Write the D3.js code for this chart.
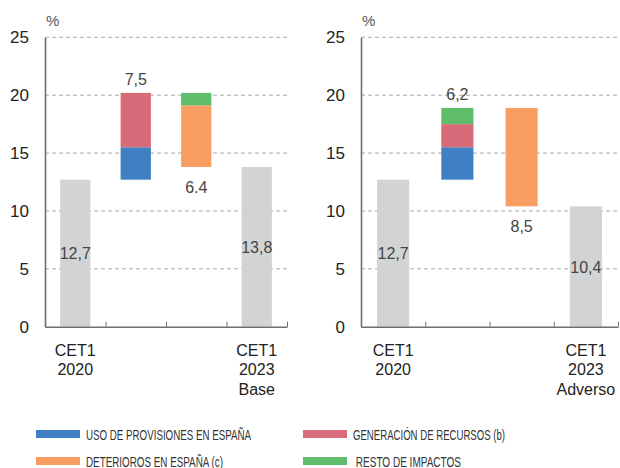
<!DOCTYPE html>
<html>
<head>
<meta charset="utf-8">
<script src="https://cdn.jsdelivr.net/npm/d3@7"></script>
<style>
  body { margin: 0; background: #fff; }
  svg { display: block; font-family: "Liberation Sans", Arial, sans-serif; }
</style>
</head>
<body>
<svg id="chart" width="620" height="468"></svg>
<script>
// data, one entry per panel (Base, Adverso)
var scenarios = ["Base", "Adverso"];
var categoriesBase = [["CET1", "2020"], [], [], ["CET1", "2023", "Base"]];
var categoriesAdverso = [["CET1", "2020"], [], [], ["CET1", "2023", "Adverso"]];
var cet1Start = [12.7, 12.7];
var cet1End = [13.8, 10.4];
var usoProvisiones = [2.8, 2.8];
var generacionRecursos = [4.7, 2.0];
var restoImpactos = [-1.1, 1.4];
var deteriorosEspana = [-5.3, -8.5];
var upLabels = ["7,5", "6,2"];
var downLabels = ["6.4", "8,5"];
var startLabels = ["12,7", "12,7"];
var endLabels = ["13,8", "10,4"];
var yTicks = [0, 5, 10, 15, 20, 25];

var seriesNames = ["USO DE PROVISIONES EN ESPAÑA", "GENERACIÓN DE RECURSOS (b)",
                   "DETERIOROS EN ESPAÑA (c)", " RESTO DE IMPACTOS"];
var colors = {
    uso: "#3f7fc4",
    gen: "#d86b79",
    det: "#f89e62",
    resto: "#5fbd6b",
    cet1: "#d2d3d5"
};

var svg = d3.select("#chart");

var y = d3.scaleLinear().domain([0, 25]).range([326.7, 37.3]);

var panels = [
    {left: 45, right: 287, cats: categoriesBase},
    {left: 361, right: 618, cats: categoriesAdverso}
];

panels.forEach(function(p, i) {
    var g = svg.append("g");

    var x = d3.scaleBand()
        .domain([0, 1, 2, 3])
        .range([p.left, p.right])
        .paddingInner(0.5)
        .paddingOuter(0.25);

    // gridlines
    g.selectAll(".grid")
        .data(yTicks.filter(function(d) { return d > 0; }))
        .enter().append("line")
        .attr("x1", p.left)
        .attr("x2", p.right)
        .attr("y1", function(d) { return y(d); })
        .attr("y2", function(d) { return y(d); })
        .attr("stroke", "#a8a8a8")
        .attr("stroke-width", 1)
        .attr("stroke-dasharray", "4,3");

    // build the waterfall segments
    var segs = [];
    segs.push({bar: 0, y0: 0, y1: cet1Start[i], color: colors.cet1});
    var running = cet1Start[i];
    var steps = [
        {v: usoProvisiones[i], color: colors.uso},
        {v: generacionRecursos[i], color: colors.gen},
        {v: restoImpactos[i], color: colors.resto},
        {v: deteriorosEspana[i], color: colors.det}
    ];
    var upTop = running, downBottom = null;
    steps.forEach(function(s) {
        var next = running + s.v;
        segs.push({bar: s.v >= 0 ? 1 : 2, y0: Math.min(running, next), y1: Math.max(running, next), color: s.color});
        running = next;
        if (s.v >= 0) upTop = running;
        else downBottom = running;
    });
    segs.push({bar: 3, y0: 0, y1: cet1End[i], color: colors.cet1});

    g.selectAll(".seg")
        .data(segs)
        .enter().append("rect")
        .attr("x", function(d) { return x(d.bar); })
        .attr("width", x.bandwidth())
        .attr("y", function(d) { return y(d.y1); })
        .attr("height", function(d) { return y(d.y0) - y(d.y1); })
        .attr("fill", function(d) { return d.color; });

    // value labels
    var lbl = function(xp, yp, t) {
        g.append("text")
            .attr("x", xp)
            .attr("y", yp)
            .attr("text-anchor", "middle")
            .attr("font-size", 16)
            .attr("fill", "#444")
            .text(t);
    };
    var cx = function(k) { return x(k) + x.bandwidth() / 2; };
    lbl(cx(0), y(cet1Start[i] / 2) + 6, startLabels[i]);
    lbl(cx(3), y(cet1End[i] / 2) + 6, endLabels[i]);
    lbl(cx(1), y(upTop) - 8, upLabels[i]);
    lbl(cx(2), y(downBottom) + 26, downLabels[i]);

    // y axis
    var yAxis = d3.axisLeft(y).tickValues(yTicks).tickSize(0).tickPadding(16);
    var ya = g.append("g")
        .attr("transform", "translate(" + p.left + ",0)")
        .call(yAxis);
    ya.select(".domain").attr("stroke", "#6d6e71").attr("stroke-width", 1.6);
    ya.selectAll("text")
        .attr("font-size", 17)
        .attr("font-family", "Liberation Sans, Arial, sans-serif")
        .attr("fill", "#222");

    // x axis with ticks at band boundaries
    var xl = d3.scaleLinear().domain([0, 4]).range([p.left, p.right]);
    var xAxis = d3.axisBottom(xl).tickValues([1, 2, 3, 4]).tickSize(-5).tickSizeOuter(0).tickFormat("");
    var xa = g.append("g")
        .attr("transform", "translate(0," + y(0) + ")")
        .call(xAxis);
    xa.select(".domain").attr("stroke", "#6d6e71").attr("stroke-width", 1.6);
    xa.selectAll(".tick line").attr("stroke", "#6d6e71").attr("stroke-width", 1);

    // category labels
    p.cats.forEach(function(lines, k) {
        var t = g.append("text")
            .attr("text-anchor", "middle")
            .attr("font-size", 16)
            .attr("fill", "#222");
        lines.forEach(function(line, j) {
            t.append("tspan")
                .attr("x", cx(k))
                .attr("y", y(0) + 29 + j * 19.5)
                .text(line);
        });
    });

    g.append("text")
        .attr("x", p.left + 1)
        .attr("y", 26)
        .attr("font-size", 15)
        .attr("fill", "#555")
        .text("%");
});

// legend
var legendItems = [
    {name: seriesNames[0], color: colors.uso, x: 36, y: 430, w: 165},
    {name: seriesNames[1], color: colors.gen, x: 303, y: 430, w: 152},
    {name: seriesNames[2], color: colors.det, x: 36, y: 457, w: 137},
    {name: seriesNames[3], color: colors.resto, x: 303, y: 457, w: 108}
];

var legend = svg.selectAll(".legend")
    .data(legendItems)
    .enter().append("g")
    .attr("class", "legend")
    .attr("transform", function(d) { return "translate(" + d.x + "," + d.y + ")"; });

legend.append("rect")
    .attr("width", 44)
    .attr("height", 8)
    .attr("fill", function(d) { return d.color; });

legend.append("text")
    .attr("x", 50)
    .attr("y", 9.5)
    .attr("font-size", 15.5)
    .attr("fill", "#333")
    .attr("textLength", function(d) { return d.w; })
    .attr("lengthAdjust", "spacingAndGlyphs")
    .style("white-space", "pre")
    .text(function(d) { return d.name; });
</script>
</body>
</html>
